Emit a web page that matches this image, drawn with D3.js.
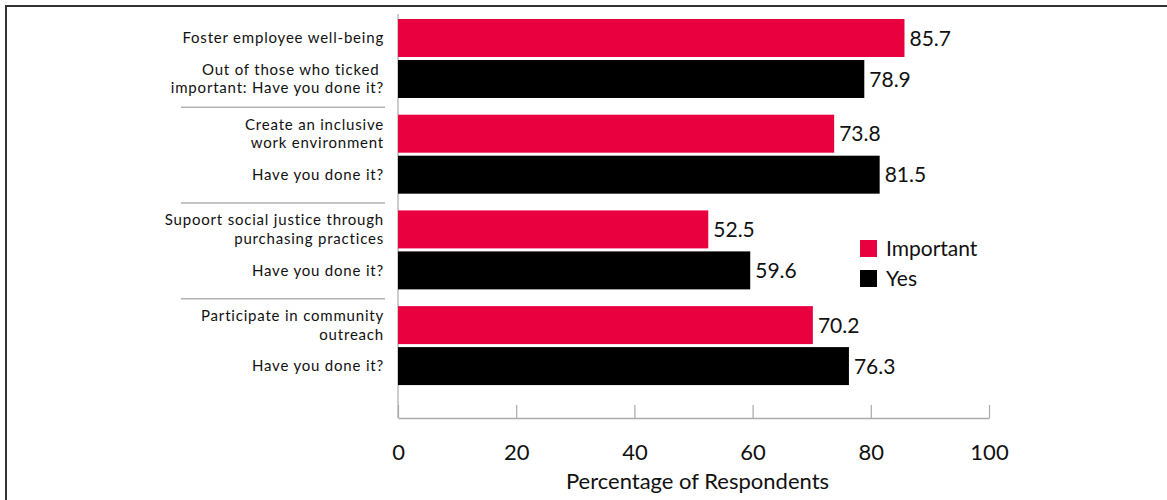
<!DOCTYPE html>
<html><head><meta charset="utf-8">
<script src="https://cdn.jsdelivr.net/npm/d3@7"></script>
<style>html,body{margin:0;padding:0;background:#fff;} svg{display:block;}</style>
</head><body>
<svg id="chart" width="1167" height="500"></svg>
<script>
const groups = ["g1","g2","g3","g4"];
const importantLabels = [["Foster employee well-being"],["Create an inclusive","work environment"],["Supoort social justice through","purchasing practices"],["Participate in community","outreach"]];
const yesLabels = [["Out of those who ticked ","important: Have you done it?"],["Have you done it?"],["Have you done it?"],["Have you done it?"]];
const importantValues = [85.7, 73.8, 52.5, 70.2];
const yesValues = [78.9, 81.5, 59.6, 76.3];
const seriesNames = ["Important","Yes"];
const xTicks = [0,20,40,60,80,100];
const axisTitle = "Percentage of Respondents";

const colors = {Important:"#e8003f", Yes:"#000000"};
const font = "Lato, 'Open Sans', sans-serif";
const svg = d3.select("#chart");

// frame
svg.append("rect").attr("x",6).attr("y",6).attr("width",1200).attr("height",600)
  .attr("fill","none").attr("stroke","#333").attr("stroke-width",2);

const x = d3.scaleLinear().domain([0,100]).range([398,989]);
const y0 = d3.scaleBand().domain(groups).range([10.65,393.45]).paddingInner(0.175).paddingOuter(0.0875);
const y1 = d3.scaleBand().domain(seriesNames).range([0,y0.bandwidth()]).paddingInner(0.0732);

const rows = [];
groups.forEach((g,i)=>{
  rows.push({g, s:"Important", v:importantValues[i], label:importantLabels[i]});
  rows.push({g, s:"Yes", v:yesValues[i], label:yesLabels[i]});
});

// vertical axis line
svg.append("line").attr("x1",x(0)).attr("x2",x(0)).attr("y1",14).attr("y2",418)
  .attr("stroke","#aaa").attr("stroke-width",1.2);

// x axis
const axisY = 418;
const xAxis = d3.axisBottom(x).tickValues(xTicks).tickSize(-13).tickPadding(26).tickSizeOuter(0);
const ax = svg.append("g").attr("transform",`translate(0,${axisY})`).call(xAxis);
ax.select(".domain").attr("stroke","#aaa").attr("stroke-width",1.5);
ax.selectAll(".tick line").attr("stroke","#aaa").attr("stroke-width",1.2);
ax.selectAll(".tick text").attr("font-family",font).attr("font-size",22).attr("fill","#111");

svg.append("text").attr("x",(x(0)+x(100))/2 + 4).attr("y",489).attr("text-anchor","middle")
  .attr("font-family",font).attr("font-size",22).attr("fill","#111").text(axisTitle);

// bars
const yPos = d => y0(d.g) + y1(d.s);
svg.selectAll("rect.bar").data(rows).join("rect").attr("class","bar")
  .attr("x",x(0)).attr("y",yPos).attr("width",d=>x(d.v)-x(0)).attr("height",y1.bandwidth())
  .attr("fill",d=>colors[d.s]);

// value labels
svg.selectAll("text.val").data(rows).join("text").attr("class","val")
  .attr("x",d=>x(d.v)+5).attr("y",d=>yPos(d)+y1.bandwidth()/2).attr("dy","0.36em")
  .attr("font-family",font).attr("font-size",21).attr("fill","#111").text(d=>d.v.toFixed(1));

// category labels
const lineH = 18.5;
rows.forEach(d=>{
  const cy = yPos(d)+y1.bandwidth()/2;
  const n = d.label.length;
  const t = svg.append("text").attr("text-anchor","end").attr("font-family",font)
    .attr("font-size",15).attr("letter-spacing","0.8px").attr("fill","#111").style("white-space","pre");
  d.label.forEach((ln,k)=>{
    t.append("tspan").attr("x",384).attr("y",cy + (k-(n-1)/2)*lineH).attr("dy","0.35em").text(ln);
  });
});

// separators
for(let i=1;i<groups.length;i++){
  const prevEnd = y0(groups[i-1]) + y0.bandwidth();
  const nextStart = y0(groups[i]);
  const yy = (prevEnd+nextStart)/2 + 1;
  svg.append("line").attr("x1",181).attr("x2",385).attr("y1",yy).attr("y2",yy)
    .attr("stroke","#b3b3b3").attr("stroke-width",1.5);
}

// legend
const leg = svg.append("g");
seriesNames.forEach((s,i)=>{
  leg.append("rect").attr("x",860).attr("y",240+i*30).attr("width",17).attr("height",17).attr("fill",colors[s]);
  leg.append("text").attr("x",886).attr("y",240+i*30+8.5).attr("dy","0.36em").attr("font-family",font)
    .attr("font-size",21).attr("fill","#111").text(s);
});
</script>
</body></html>
